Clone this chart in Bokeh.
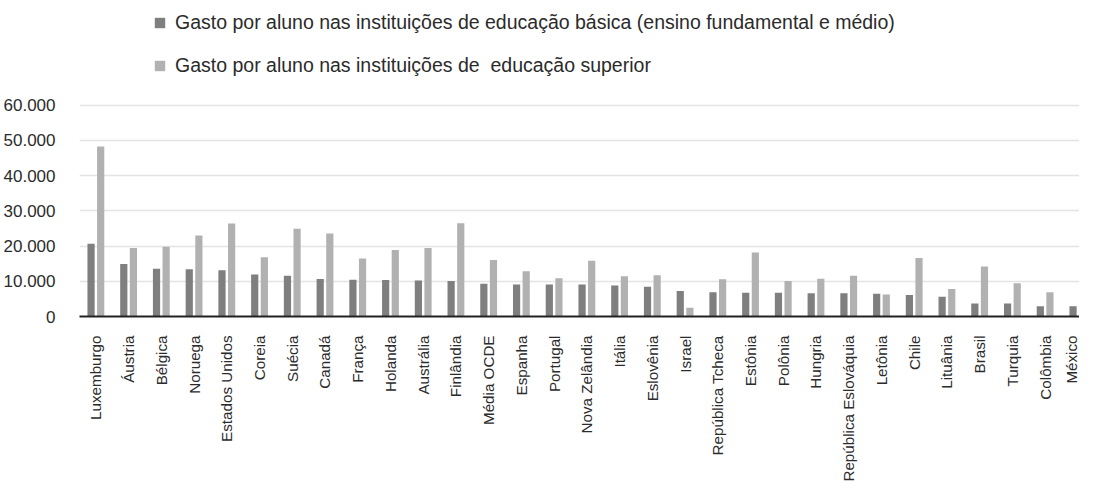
import math
from bokeh.plotting import figure
from bokeh.models import ColumnDataSource, Range1d, FixedTicker, Legend, LegendItem
from bokeh.transform import dodge
from bokeh.embed import file_html
from bokeh.resources import INLINE

countries = ["Luxemburgo", "Áustria", "Bélgica", "Noruega", "Estados Unidos", "Coreia",
             "Suécia", "Canadá", "França", "Holanda", "Austrália", "Finlândia",
             "Média OCDE", "Espanha", "Portugal", "Nova Zelândia", "Itália", "Eslovênia",
             "Israel", "República Tcheca", "Estônia", "Polônia", "Hungria",
             "República Eslováquia", "Letônia", "Chile", "Lituânia", "Brasil",
             "Turquia", "Colômbia", "México"]
basica = [20680, 14880, 13530, 13430, 13140, 11890, 11600, 10630, 10440, 10340, 10240,
          10050, 9280, 9090, 9090, 9090, 8800, 8410, 7250, 6860, 6770, 6770, 6570,
          6570, 6470, 6090, 5610, 3670, 3670, 2900, 2900]
superior = [48230, 19430, 19820, 23000, 26390, 16820, 24940, 23590, 16430, 18850, 19430,
            26490, 16050, 12860, 10830, 15850, 11410, 11700, 2510, 10540, 18170, 10050,
            10730, 11600, 6280, 16630, 7830, 14210, 9470, 6860, 8310]
y_ticks = [0, 10000, 20000, 30000, 40000, 50000, 60000]
y_tick_labels = ["0", "10.000", "20.000", "30.000", "40.000", "50.000", "60.000"]
legend_labels = ["Gasto por aluno nas instituições de educação básica (ensino fundamental e médio)",
                 "Gasto por aluno nas instituições de  educação superior"]

FONT = "Liberation Sans"
TEXT_COLOR = "#2b2b2b"
DARK = "#7f7f7f"
LIGHT = "#b1b1b1"

xs = list(range(len(countries)))
src = ColumnDataSource(dict(x=xs, name=countries, basica=basica, superior=superior))

p = figure(width=1079, height=484, output_backend="svg", toolbar_location=None,
           x_range=Range1d(-0.5, 30.05), y_range=Range1d(0, 89700),
           min_border_left=75, min_border_right=0, min_border_top=0, min_border_bottom=0)
p.outline_line_color = None
p.background_fill_color = "white"
p.border_fill_color = "white"

r1 = p.vbar(x=dodge("x", -0.147, range=p.x_range), top="basica", width=0.22, source=src,
            fill_color=DARK, line_color=None)
r2 = p.vbar(x=dodge("x", 0.147, range=p.x_range), top="superior", width=0.22, source=src,
            fill_color=LIGHT, line_color=None)

# x axis
p.xaxis.ticker = FixedTicker(ticks=xs)
p.xaxis.major_label_overrides = {i: n for i, n in zip(xs, countries)}
p.xaxis.major_label_orientation = math.pi / 2
p.xaxis.major_label_text_font = FONT
p.xaxis.major_label_text_font_size = "15.2px"
p.xaxis.major_label_text_color = TEXT_COLOR
p.xaxis.major_label_standoff = 13
p.xaxis.major_tick_line_color = None
p.xaxis.minor_tick_line_color = None
p.xaxis.axis_line_color = "#222222"
p.xaxis.axis_line_width = 2
p.xgrid.grid_line_color = None

# y axis
p.yaxis.ticker = FixedTicker(ticks=y_ticks)
p.yaxis.major_label_overrides = {t: l for t, l in zip(y_ticks, y_tick_labels)}
p.yaxis.major_label_text_font = FONT
p.yaxis.major_label_text_font_size = "17px"
p.yaxis.major_label_text_color = TEXT_COLOR
p.yaxis.major_label_standoff = 18
p.yaxis.axis_line_color = None
p.yaxis.major_tick_line_color = None
p.yaxis.minor_tick_line_color = None
p.ygrid.ticker = FixedTicker(ticks=y_ticks[1:])
p.ygrid.grid_line_color = "#e4e4e4"
p.ygrid.grid_line_width = 1.5

legend = Legend(items=[LegendItem(label=legend_labels[0], renderers=[r1]),
                       LegendItem(label=legend_labels[1], renderers=[r2])],
                location=(74, 236), orientation="vertical")
legend.label_text_font = FONT
legend.label_text_font_size = "19.5px"
legend.label_text_color = TEXT_COLOR
legend.glyph_width = 13
legend.glyph_height = 13
legend.label_height = 30
legend.spacing = 13
legend.padding = 0
legend.margin = 0
legend.label_standoff = 9
legend.border_line_color = None
legend.background_fill_alpha = 0
p.add_layout(legend)

open("out.html", "w").write(file_html(p, INLINE))
